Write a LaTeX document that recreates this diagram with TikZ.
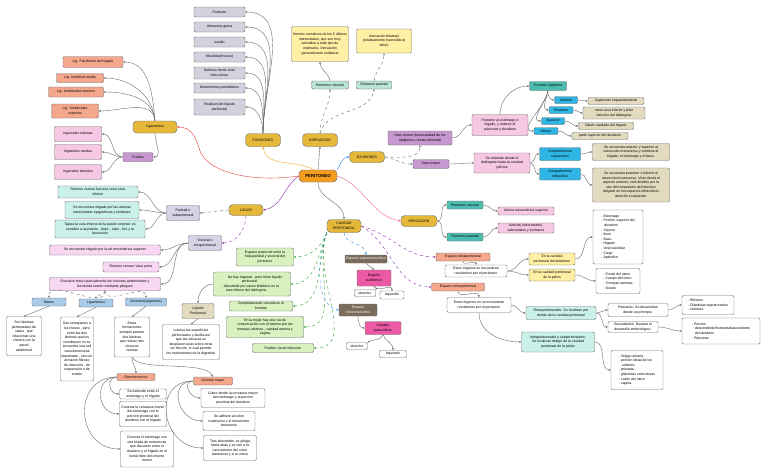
\documentclass[tikz,border=0pt]{standalone}
\usepackage{fontspec}
\setmainfont{Liberation Sans}
\usetikzlibrary{arrows.meta}
\definecolor{bord}{HTML}{6E6E6E}
\definecolor{edge}{HTML}{6B6B6B}
\definecolor{gold}{HTML}{E5B83A}
\definecolor{orangeC}{HTML}{F39C1F}
\definecolor{salmon}{HTML}{F5A78C}
\definecolor{pinkL}{HTML}{F7C8E4}
\definecolor{purp}{HTML}{C797CF}
\definecolor{grayF}{HTML}{D2D2DE}
\definecolor{tealL}{HTML}{B9E3D3}
\definecolor{yel}{HTML}{FFF0A6}
\definecolor{tealD}{HTML}{4DBDB0}
\definecolor{cyanC}{HTML}{2FB6E5}
\definecolor{tan}{HTML}{E3DBBF}
\definecolor{cyanL}{HTML}{C9F1EA}
\definecolor{pinkV}{HTML}{F8D7F2}
\definecolor{lav}{HTML}{D7D3E6}
\definecolor{blueL}{HTML}{A9CBEA}
\definecolor{greenL}{HTML}{D9F1BF}
\definecolor{darkB}{HTML}{7B6B5B}
\definecolor{mag}{HTML}{EC5AA5}
\definecolor{redE}{HTML}{E53935}
\definecolor{orangeE}{HTML}{F5A623}
\definecolor{blueE}{HTML}{2F8FE6}
\definecolor{purpleE}{HTML}{8E24AA}
\definecolor{pinkE}{HTML}{F06292}
\definecolor{greenE}{HTML}{2E9E2E}
\newcommand\tinyfs{\fontsize{3.5}{4.6}\selectfont}
\tikzset{
  bx/.style={draw=bord, line width=0.45pt, rounded corners=1.2pt, align=center, font=\tinyfs, inner sep=0.8pt},
  sz/.style 2 args={minimum width=#1, minimum height=#2},
  pill/.style={bx, fill=gold, rounded corners=4pt},
  sal/.style={bx, fill=salmon},
  pnk/.style={bx, fill=pinkL},
  pur/.style={bx, fill=purp},
  gry/.style={bx, fill=grayF},
  tel/.style={bx, fill=tealL},
  yl/.style={bx, fill=yel},
  ted/.style={bx, fill=tealD},
  cya/.style={bx, fill=cyanC},
  tn/.style={bx, fill=tan},
  cyl/.style={bx, fill=cyanL},
  pkv/.style={bx, fill=pinkV},
  lv/.style={bx, fill=lav},
  blu/.style={bx, fill=blueL},
  grn/.style={bx, fill=greenL},
  drk/.style={bx, fill=darkB, text=white},
  mg/.style={bx, fill=mag},
  wh/.style={bx, fill=white},
  lst/.style={bx, fill=white, align=left},
  cn/.style={draw=edge, line width=0.4pt, -{Stealth[length=2.2pt,width=2pt]}},
}
\begin{document}
\begin{tikzpicture}[x=1pt,y=1pt]
\useasboundingbox (0,0) rectangle (768,-474);
\fill[white] (0,0) rectangle (768,-474);
% ---------- main nodes
\node[pill, fill=orangeC, sz={38}{12}, font=\fontsize{4.3}{5}\selectfont\bfseries] (per) at (318,-176) {PERITONEO};
\node[pill, sz={44}{12}] (lig) at (155,-127) {Ligamentos};
\node[pill, sz={35}{13}] (fun) at (263,-140) {FUNCIONES};
\node[pill, sz={35}{13}] (inv) at (320,-140) {INERVACIÓN};
\node[pill, sz={35}{11}] (div) at (367,-157) {DIVISIONES};
\node[pill, sz={34}{11}] (lug) at (246,-210) {LUGAR};
\node[pill, sz={36}{11}] (irr) at (419,-221) {IRRIGACIÓN};
\node[pill, sz={34}{13}] (cav) at (344,-226) {CAVIDAD\\PERITONEAL};
% ---------- ligamentos
\node[sal, sz={60}{11}] (lf) at (93,-62) {Lig. Falciforme del hígado};
\node[sal, sz={47}{9}] (lum) at (80,-78) {Lig. Umbilical medio};
\node[sal, sz={55}{10}] (lui) at (76,-92) {Lig. Umbilicales internos};
\node[sal, sz={47}{14}] (lue) at (75,-111) {Lig. Umbilicales\\externos};
\node[pur, sz={30}{9}] (fos) at (138,-157) {Fositas};
\node[pnk, sz={47}{15}] (ii) at (78,-134) {Inguinales internas};
\node[pnk, sz={47}{15}] (im) at (78,-152) {Inguinales medias};
\node[pnk, sz={47}{15}] (il) at (78,-172) {Inguinales laterales};
% ---------- funciones
\node[gry, sz={51}{10}] (f1) at (219.5,-12) {Pedículo};
\node[gry, sz={51}{10}] (f2) at (219.5,-27) {Almacena grasa};
\node[gry, sz={51}{10}] (f3) at (219.5,-42) {sostén};
\node[gry, sz={51}{10}] (f4) at (219.5,-57) {Movilidad(mesos)};
\node[gry, sz={51}{12}] (f5) at (219.5,-73) {Defensa frente a las\\infecciones};
\node[gry, sz={51}{10}] (f6) at (219.5,-88) {Movimientos peristálticos};
\node[gry, sz={51}{16}] (f7) at (219.5,-107) {Reabsorción líquido\\peritoneal};
% ---------- inervacion
\node[tel, sz={37}{8}] (ivs) at (330,-85) {Peritoneo visceral};
\node[tel, sz={35}{8}] (ipa) at (374,-85) {Peritoneo parietal};
\node[yl, sz={57}{35}] (y1) at (320,-44) {Nervios somáticos de los 6 últimos\\intercostales, que son muy\\sensibles a todo tipo de\\estímulos. Inervación\\generalmente unilateral};
\node[yl, sz={55}{24}] (y2) at (384,-41) {Inervación bilateral\\(relativamente insensible al\\dolor)};
% ---------- divisiones
\node[pur, sz={64}{14}] (smen) at (420,-138) {Saco menor (transcavidad de los\\epiplones o bolsa omental)};
\node[pur, sz={36}{9}] (smay) at (431,-164) {Saco mayor};
\node[pnk, sz={56}{21}] (post) at (500,-125) {Posterior al estómago e\\hígado, y anterior al\\páncreas y duodeno};
\node[ted, sz={37}{9}] (fora) at (548,-86) {Foramen epiploico};
\node[cya, sz={23}{7}] (ant) at (566,-100) {Anterior};
\node[cya, sz={24}{7}] (pos) at (561,-110) {Posterior};
\node[cya, sz={23}{7}] (sup) at (553,-121) {Superior};
\node[cya, sz={24}{7}] (inf) at (546,-131) {Inferior};
\node[tn, sz={56}{7}] (t1) at (616,-101) {Ligamento hepatoduodenal};
\node[tn, sz={62}{12}] (t2) at (614,-113) {vena cava inferior y pilar\\derecho del diafragma};
\node[tn, sz={55}{7}] (t3) at (606,-126) {lóbulo caudado del hígado};
\node[tn, sz={56}{7}] (t4) at (600,-136) {parte superior del duodeno};
\node[pnk, sz={56}{20}] (ext) at (502,-163) {Se extiende desde el\\diafragma hasta la cavidad\\pélvica};
\node[cya, sz={41}{13}] (csup) at (560,-154) {Compartimento\\supracólico};
\node[cya, sz={41}{12}] (cinf) at (560,-174) {Compartimento\\infracólico};
\node[tn, sz={77}{17}] (t5) at (631,-152) {Se encuentra anterior y superior al\\mesocolon transverso y contiene al\\hígado, el estómago y el bazo.};
\node[tn, sz={77}{34}] (t6) at (631,-185) {Se encuentra posterior e inferior al\\mesocolon transverso. Visto desde el\\aspecto anterior, está dividido por la\\raíz del mesenterio del intestino\\delgado en los espacios infracólicos\\derecho e izquierdo.};
% ---------- irrigacion
\node[ted, sz={36}{8}] (irv) at (465,-205) {Peritoneo visceral};
\node[ted, sz={36}{8}] (irp) at (465,-237) {Peritoneo parietal};
\node[pnk, sz={56}{8}] (ams) at (526,-211) {Arteria mesentérica superior};
\node[pnk, sz={56}{10}] (aic) at (526,-228) {Arterias intercostales,\\subcostales y lumbares};
% ---------- lugar
\node[lv, sz={33}{15}] (par) at (183,-213) {Parietal o\\subperitoneal};
\node[lv, sz={33}{15}] (vis) at (205,-243) {Visceral o\\intraperitoneal};
\node[cyl, sz={80}{12}] (p1) at (98,-192) {Retorno venoso hacia la vena cava\\inferior};
\node[cyl, sz={74}{17}] (p2) at (102,-210) {Se encuentra irrigado por las arterias\\intercostales epigástricas y lumbares};
\node[cyl, sz={90}{18}] (p3) at (100,-229) {Tapiza la cara interna de la pared corporal: es\\sensible a la presión , dolor , calor , frío y la\\laceración};
\node[pkv, sz={111}{10}] (v1) at (105,-250) {Se encuentra irrigado por la art mesentérica superior};
\node[pkv, sz={56}{10}] (v2) at (131,-267) {Retorno venoso Vena porta};
\node[pkv, sz={111}{13}] (v3) at (105,-284) {Envuelve total o parcialmente las vísceras abdominales y\\les brinda sostén mediante pliegues};
\node[blu, sz={34}{8}] (mes) at (49,-302) {Mesos};
\node[blu, sz={34}{8}] (ligb) at (96,-303) {Ligamentos};
\node[blu, sz={41}{8}] (ome) at (146,-302) {Omentos(epiplones)};
\node[wh, sz={35}{39}] (md) at (24,-336) {Son láminas\\peritoneales de\\vasos , que\\relacionan una\\víscera con la\\pared\\abdominal};
\node[wh, sz={33}{64}] (ld) at (77,-349) {Son semejantes a\\los mesos , pero\\entre las dos\\láminas que los\\constituyen no se\\encuentra una red\\vasculonerviosa\\importante , sino un\\armazón fibroso\\de inserción , de\\suspensión o de\\sostén};
\node[wh, sz={35}{40}] (od) at (132,-337) {Estas\\formaciones\\siempre poseen\\dos láminas\\que reúnen dos\\vísceras\\vecinas};
\node[sal, sz={38}{7}] (omen) at (136,-377) {Omento menor};
\node[sal, sz={39}{8}] (omay) at (213,-381) {Omento mayor};
\node[wh, sz={47}{10}] (om1) at (143,-394) {Se extiende entre el\\estómago y el hígado};
\node[wh, sz={47}{25}] (om2) at (143,-414) {Conecta la curvatura menor\\del estómago con la\\porción proximal del\\duodeno con el hígado};
\node[wh, sz={53}{36}] (om3) at (147,-449) {Conecta el estómago con\\una tríada de estructuras\\que discurren entre el\\duodeno y el hígado en el\\borde libre del omento\\menor};
\node[wh, sz={64}{19}] (oy1) at (233,-398) {Cubre desde la curvatura mayor\\del estómago y la porción\\proximal del duodeno};
\node[wh, sz={52}{19}] (oy2) at (229,-421) {Se adhiere al colon\\transverso y al mesocolon\\transverso};
\node[wh, sz={53}{25}] (oy3) at (230,-448) {Tras descender, se pliega\\hacia atrás y se une a la\\cara anterior del colon\\transverso y a su meso};
% ---------- cavidad
\node[grn, sz={57}{18}] (g1) at (265,-257) {Espacio potencial entre la\\hoja parietal y visceral del\\peritoneo};
\node[grn, sz={77}{24}, align=left] (g2) at (252,-284) {\hspace*{6pt}No hay órganos , pero tiene líquido\\\hspace*{20pt}peritoneal.\\- Absorbido por vasos linfáticos en la\\\hspace*{4pt}cara inferior del diafragma};
\node[grn, sz={63}{10}] (g3) at (261,-306) {Completamente cerrada en el\\hombre};
\node[grn, sz={77}{21}] (g4) at (265,-327) {En la mujer hay una vía de\\comunicación con el exterior por las\\trompas uterinas , cavidad uterina y\\vagina};
\node[grn, sz={61}{9}] (g5) at (283,-348) {Posible vía de infección};
\node[tn, sz={32}{15}] (liq) at (198,-311) {Líquido\\Peritoneal};
\node[wh, sz={57}{35}] (lub) at (191,-342) {Lubrica las superficies\\peritoneales y facilita así\\que las vísceras se\\desplacen unas sobre otras\\sin fricción, lo cual permite\\los movimientos de la digestión};
\node[drk, sz={42}{8}] (esup) at (366,-259) {Espacio supramesocólico};
\node[mg, sz={34}{16}] (sfr) at (374,-278) {Espacio\\subfrénico};
\node[wh, sz={21}{7}] (der1) at (365,-293) {derecho};
\node[wh, sz={24}{8}] (izq1) at (392,-295) {izquierdo};
\node[drk, sz={38}{12}] (einf) at (358,-310) {Espacio\\inframesocólico};
\node[mg, sz={36}{13}] (cpa) at (383,-328) {Canales\\paracólicos};
\node[wh, sz={21}{7}] (der2) at (357,-346) {derecho};
\node[wh, sz={27}{7}] (izq2) at (393,-354) {izquierdo};
\node[sal, sz={54}{8}] (eint) at (463,-257) {Espacio intraperitoneal};
\node[wh, sz={62}{12}] (eo1) at (476,-271) {Estos órganos se encuentran\\recubiertos por el peritoneo};
\node[yl, sz={46}{12}] (ya) at (552,-259) {En la cavidad\\peritoneal del abdomen};
\node[yl, sz={46}{12}] (yp) at (552,-275) {En la cavidad peritoneal\\de la pelvis};
\node[lst, sz={50}{54}] (la) at (618,-237) {- Estómago\\- Porción superior del\\\hspace*{3pt}duodeno\\- Yeyuno\\- Íleon\\- Bazo\\- Hígado\\- Vesícula biliar\\- Ciego\\- Apéndice};
\node[lst, sz={44}{25}] (lp) at (618,-281) {- Fondo del útero\\- Cuerpo del útero\\- Trompas uterinas\\- Ovario};
\node[sal, sz={53}{8}] (eret) at (458,-287) {Espacio retroperitoneal};
\node[wh, sz={64}{15}] (eo2) at (479,-305) {Estos órganos no se encuentran\\recubiertos por el peritoneo};
\node[cyl, sz={70}{13}] (rp) at (561,-313) {Retroperitoneales: Se localizan por\\detrás de la cavidad peritoneal};
\node[wh, sz={60}{13}] (pri) at (638,-310) {Primarios: Se desarrollan\\desde un principio.};
\node[lst, sz={52}{19}] (rl) at (708,-305) {- Riñones\\- Glándulas suprarrenales\\- Uréteres};
\node[wh, sz={50}{11}] (sec) at (633,-327) {Secundarios: Durante el\\desarrollo embriológico.};
\node[lst, sz={78}{26}] (pl) at (721,-331) {- Porción\\\hspace*{3pt}descendente/horizontal/ascendente\\\hspace*{3pt}del duodeno\\- Páncreas};
\node[cyl, sz={73}{20}] (ifp) at (558,-342) {Infraperitoneales o subperitoneales:\\Se localizan debajo de la cavidad\\peritoneal de la pelvis};
\node[lst, sz={52}{39}] (vl) at (637,-370) {- Vejiga urinaria\\- porción distal de los\\\hspace*{3pt}uréteres\\- próstata\\- glándulas vesiculosas\\- cuello del útero\\- vagina.};
% ---------- connectors from PERITONEO
\draw[cn, draw=redE] (per.west) .. controls (250,-183) and (205,-172) .. (199,-148) .. controls (195,-135) and (190,-127) .. (lig.east);
\draw[cn, draw=orangeE] ([xshift=-4pt]per.north) to[out=150,in=-80] (fun.south);
\draw[cn] (per.north) -- (inv.south);
\draw[cn, draw=blueE] (per.north east) to[out=60,in=180] (div.west);
\draw[cn, draw=purpleE] (per.west) to[out=215,in=10] (lug.east);
\draw[cn] (per.south) to[out=-90,in=90] (cav.north);
\draw[cn, draw=pinkE] (per.east) to[out=-20,in=170] (irr.west);
% ligamentos
\foreach \t in {lf,lum,lui,lue} \draw[cn] (lig.north) to[out=95,in=0] (\t.east);
\draw[cn] (lig.south) to[out=-90,in=0] (fos.east);
\foreach \t in {ii,im,il} \draw[cn] (fos.west) to[out=180,in=0] (\t.east);
% funciones
\foreach \t in {f1,f2,f3,f4,f5,f6,f7} \draw[cn] (fun.north) to[out=90,in=0] (\t.east);
% inervacion
\draw[cn, dashed] (inv.north) to[out=90,in=-90] (ivs.south);
\draw[cn, dashed] (inv.north) to[out=75,in=-100] (ipa.south);
\draw[cn] (ivs.north) to[out=100,in=-90] (y1.south);
\draw[cn, dashed] (ipa.north) to[out=80,in=-90] (y2.south);
% divisiones
\draw[cn, dashed] (div.east) to[out=0,in=-90] (smen.south);
\draw[cn, dashed] (div.east) to[out=-10,in=180] (smay.west);
\draw[cn] (smen.east) to[out=0,in=180] (post.west);
\draw[cn] (post.north) to[out=90,in=180] (fora.west);
\foreach \t in {ant,pos,sup,inf} \draw[cn] (fora.south) to[out=-100,in=180] (\t.west);
\draw[cn] (ant.east) to[out=0,in=180] (t1.west);
\draw[cn] (pos.east) to[out=0,in=180] (t2.west);
\draw[cn] (sup.east) to[out=0,in=180] (t3.west);
\draw[cn] (inf.east) to[out=0,in=180] (t4.west);
\draw[cn] (smay.east) to[out=0,in=180] (ext.west);
\draw[cn] (ext.east) to[out=0,in=180] (csup.west);
\draw[cn] (ext.east) to[out=0,in=180] (cinf.west);
\draw[cn] (csup.east) to[out=0,in=180] (t5.west);
\draw[cn] (cinf.east) to[out=0,in=180] (t6.west);
% irrigacion
\draw[cn] (irr.east) to[out=0,in=180] (irv.west);
\draw[cn] (irr.east) to[out=0,in=180] (irp.west);
\draw[cn] (irv.east) to[out=0,in=180] (ams.west);
\draw[cn] (irp.east) to[out=0,in=180] (aic.west);
% lugar
\draw[cn, dashed] (lug.west) -- (par.east);
\draw[cn, draw=purpleE, dashed] (lug.south) to[out=-90,in=0] (vis.east);
\foreach \t in {p1,p2,p3} \draw[cn] (par.west) to[out=180,in=0] (\t.east);
\foreach \t in {v1,v2,v3} \draw[cn] (vis.west) to[out=180,in=0] (\t.east);
\foreach \t in {mes,ligb,ome} \draw[cn, dashed] (v3.south) to[out=-90,in=90] (\t.north);
\draw[cn] (mes.south) -- (md.north);
\draw[cn] (ligb.south) -- (ld.north);
\draw[cn] (ome.south) -- (od.north);
\draw[cn] (od.south) to[out=-90,in=90] (omen.north);
\draw[cn] (od.south) .. controls (140,-372) and (205,-360) .. (omay.north);
\foreach \t in {om1,om2,om3} \draw[cn] (omen.west) to[out=180,in=180,looseness=1.6] (\t.west);
\foreach \t in {oy1,oy2,oy3} \draw[cn] (omay.west) to[out=180,in=180,looseness=1.6] (\t.west);
% cavidad
\foreach \t in {g1,g2,g3,g4,g5} \draw[cn, draw=greenE, dashed] (cav.south west) to[out=-110,in=0] (\t.east);
\draw[cn] (g2.west) to[out=180,in=90] (liq.north);
\draw[cn] (liq.south) -- (lub.north);
\draw[cn, draw=blueE, dashed] (cav.south) to[out=-90,in=90] (esup.north);
\draw[cn] (esup.south) -- (sfr.north);
\draw[cn] (sfr.south) to[out=-110,in=30] (der1.north east);
\draw[cn] (sfr.south) to[out=-70,in=90] (izq1.north);
\draw[cn, draw=blueE, dashed] (cav.south west) .. controls (316,-262) and (316,-306) .. (einf.west);
\draw[cn] (einf.south) to[out=-90,in=180] (cpa.west);
\draw[cn] (cpa.south) to[out=-110,in=30] (der2.north east);
\draw[cn] (cpa.south) to[out=-70,in=90] (izq2.north);
\draw[cn, draw=purpleE, dashed] (cav.east) to[out=-15,in=180] (eint.west);
\draw[cn, draw=purpleE, dashed] (cav.east) to[out=-30,in=180] (eret.west);
\draw[cn] (eint.south) to[out=-90,in=90] (eo1.north);
\draw[cn] (eo1.east) to[out=0,in=180] (ya.west);
\draw[cn] (eo1.east) to[out=0,in=180] (yp.west);
\draw[cn] (ya.east) to[out=0,in=180] (la.west);
\draw[cn] (yp.east) to[out=0,in=180] (lp.west);
\draw[cn] (eret.south) to[out=-90,in=90] (eo2.north);
\draw[cn] (eo2.east) to[out=0,in=180] (rp.west);
\draw[cn] (eo2.south) to[out=-90,in=180] (ifp.west);
\draw[cn] (rp.east) to[out=0,in=180] (pri.west);
\draw[cn] (rp.east) to[out=0,in=180] (sec.west);
\draw[cn] (pri.east) to[out=0,in=180] (rl.west);
\draw[cn] (sec.east) to[out=0,in=180] (pl.west);
\draw[cn] (ifp.east) to[out=0,in=180] (vl.west);
\end{tikzpicture}
\end{document}
